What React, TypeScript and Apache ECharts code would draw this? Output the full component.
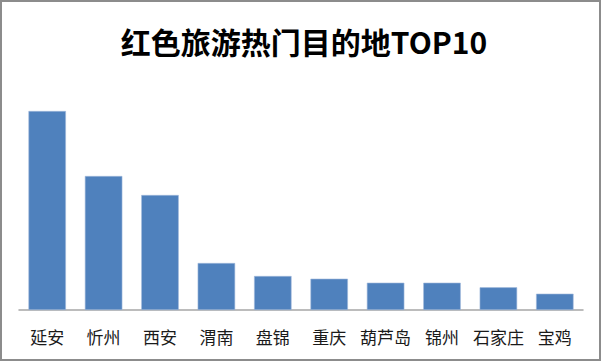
import React, { useEffect, useRef } from "react";
import * as echarts from "echarts";

const titleText = "红色旅游热门目的地TOP10";
const categories = ["延安", "忻州", "西安", "渭南", "盘锦", "重庆", "葫芦岛", "锦州", "石家庄", "宝鸡"];
const values = [199, 134, 115, 47, 34, 31.3, 27.3, 27.3, 22.7, 16.3];
const axisMax = 250;

export default function App() {
  const ref = useRef<HTMLDivElement>(null);
  useEffect(() => {
    document.body.style.margin = "0";
    const chart = echarts.init(ref.current!, null, { renderer: "svg" });
    chart.setOption({
      animation: false,
      backgroundColor: "#ffffff",
      title: {
        text: titleText,
        left: 299,
        textAlign: "center",
        top: 21,
        textStyle: {
          fontFamily: "Noto Sans CJK SC",
          fontSize: 30,
          fontWeight: "bold",
          color: "#000000",
        },
      },
      graphic: [
        {
          type: "rect",
          shape: { x: 1, y: 1, width: 599, height: 359 },
          style: { fill: "none", stroke: "#8c8c8c", lineWidth: 2 },
          silent: true,
        },
      ],
      grid: { left: 19, right: 19, top: 60, bottom: 52 },
      xAxis: {
        type: "category",
        data: categories,
        axisLine: { show: true, lineStyle: { color: "#a6a6a6", width: 1.5 } },
        axisTick: { show: false },
        axisLabel: {
          margin: 18,
          fontSize: 17,
          color: "#1a1a1a",
          fontFamily: "Noto Sans CJK SC",
          interval: 0,
        },
      },
      yAxis: {
        type: "value",
        min: 0,
        max: axisMax,
        show: false,
        splitLine: { show: false },
      },
      series: [
        {
          type: "bar",
          data: values,
          barWidth: 37.5,
          itemStyle: { color: "#4f81bd", borderColor: "#a3bbdc", borderWidth: 0.6 },
        },
      ],
    });
    return () => chart.dispose();
  }, []);
  return <div ref={ref} style={{ position: "absolute", left: 0, top: 0, width: 602, height: 362 }} />;
}
